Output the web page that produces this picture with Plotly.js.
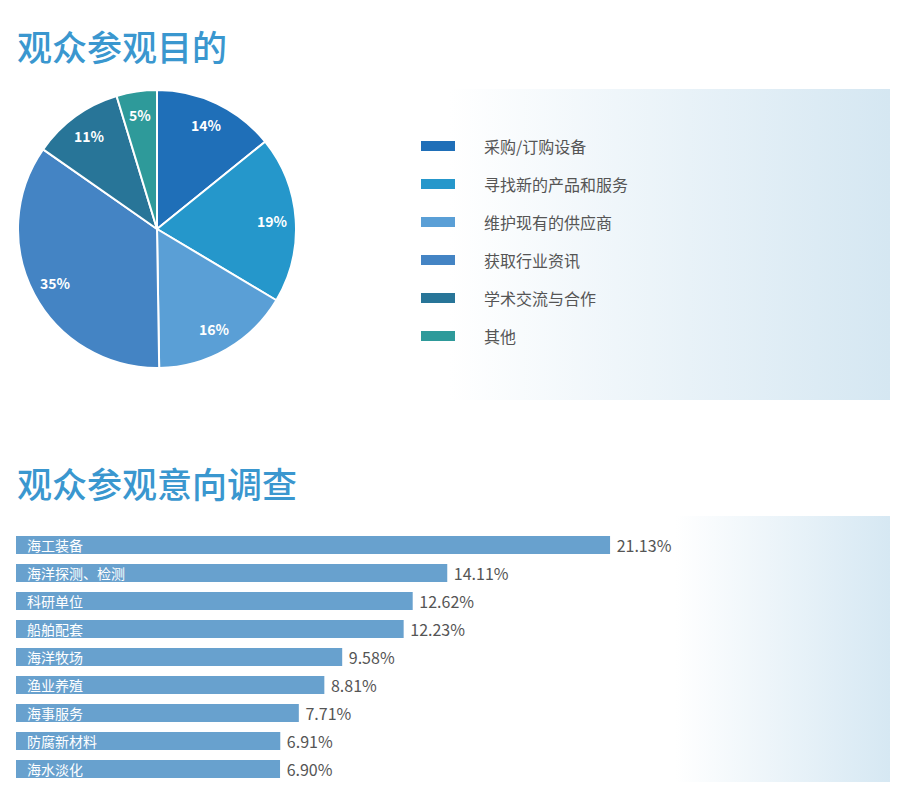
<!DOCTYPE html>
<html>
<head>
<meta charset="utf-8">
<script src="https://cdn.plot.ly/plotly-3.0.1.min.js"></script>
<style>
html,body{margin:0;padding:0;background:#fff;}
#chart{width:907px;height:801px;}
</style>
</head>
<body>
<div id="chart"></div>
<script>
// ---- data ----
const pieTitle = '观众参观目的';
const pieLabels = ['采购/订购设备', '寻找新的产品和服务', '维护现有的供应商', '获取行业资讯', '学术交流与合作', '其他'];
// shares (labelled 14%, 19%, 16%, 35%, 11%, 5%)
const pieValues = [14.2, 19.4, 16.2, 35.0, 10.6, 4.7];
const pieColors = ['#1f6fb8', '#2597cb', '#5a9fd6', '#4484c4', '#287598', '#2e9a9a'];

const barTitle = '观众参观意向调查';
const barCats = ['海工装备', '海洋探测、检测', '科研单位', '船舶配套', '海洋牧场', '渔业养殖', '海事服务', '防腐新材料', '海水淡化'];
const barValues = [21.13, 14.11, 12.62, 12.23, 9.58, 8.81, 7.71, 6.91, 6.90];
const barColor = '#68a1ce';

// ---- layout helpers ----
const W = 907, H = 801;
const px = x => x / W;
const py = y => 1 - y / H;
const FONT = '"Noto Sans CJK SC", "Noto Sans", sans-serif';
const OFFSET = 4.485;   // bars start left of the value origin
const XMAX = 33.2;

// pie geometry (pixels)
const PIE_CX = 157, PIE_CY = 229, PIE_R = 139;
const LABEL_R = 0.83;

function gradientImage(x0, x1, y0, y1, startStop, color) {
  const svg = "<svg xmlns='http://www.w3.org/2000/svg' width='200' height='100' preserveAspectRatio='none' viewBox='0 0 200 100'>" +
    "<defs><linearGradient id='g' x1='0' x2='1' y1='0' y2='0'>" +
    "<stop offset='0' stop-color='#ffffff'/>" +
    "<stop offset='" + startStop + "' stop-color='#ffffff'/>" +
    "<stop offset='1' stop-color='" + color + "'/>" +
    "</linearGradient></defs><rect width='200' height='100' fill='url(#g)'/></svg>";
  return {
    source: 'data:image/svg+xml;charset=utf-8,' + encodeURIComponent(svg),
    xref: 'paper', yref: 'paper',
    x: px(x0), y: py(y0), sizex: px(x1) - px(x0), sizey: py(y0) - py(y1),
    xanchor: 'left', yanchor: 'top', sizing: 'stretch', layer: 'below'
  };
}

const pieTrace = {
  type: 'pie',
  values: pieValues,
  labels: pieLabels,
  marker: {colors: pieColors, line: {color: '#ffffff', width: 2}},
  sort: false,
  direction: 'clockwise',
  rotation: 0,
  textinfo: 'none',
  hoverinfo: 'label+percent',
  showlegend: false,
  domain: {x: [px(PIE_CX - PIE_R), px(PIE_CX + PIE_R)], y: [py(PIE_CY + PIE_R), py(PIE_CY - PIE_R)]}
};

const barTrace = {
  type: 'bar',
  orientation: 'h',
  y: barCats,
  x: barValues.map(v => v + OFFSET),
  base: -OFFSET,
  text: barValues.map(v => ' ' + v.toFixed(2) + '%'),
  textposition: 'outside',
  textfont: {family: FONT, size: 16, color: '#555555'},
  constraintext: 'none',
  cliponaxis: false,
  marker: {color: barColor},
  hovertemplate: '%{y}: %{text}<extra></extra>',
  showlegend: false,
  xaxis: 'x', yaxis: 'y'
};

const annotations = [];
annotations.push({
  text: pieTitle, xref: 'paper', yref: 'paper', x: px(15), y: py(45),
  xanchor: 'left', yanchor: 'middle', showarrow: false,
  font: {family: FONT, size: 35, color: '#3a97cf', weight: 500}
});
annotations.push({
  text: barTitle, xref: 'paper', yref: 'paper', x: px(15), y: py(482),
  xanchor: 'left', yanchor: 'middle', showarrow: false,
  font: {family: FONT, size: 35, color: '#3a97cf', weight: 500}
});

// pie percentage labels, placed at each slice's mid-angle
const pieTotal = pieValues.reduce((a, b) => a + b, 0);
let cum = 0;
pieValues.forEach(v => {
  const mid = (cum + v / 2) / pieTotal * 2 * Math.PI;
  cum += v;
  const lx = PIE_CX + LABEL_R * PIE_R * Math.sin(mid);
  const ly = PIE_CY - LABEL_R * PIE_R * Math.cos(mid);
  annotations.push({
    text: Math.round(v) + '%', xref: 'paper', yref: 'paper', x: px(lx), y: py(ly),
    xanchor: 'center', yanchor: 'middle', showarrow: false,
    font: {family: FONT, size: 14, color: '#ffffff', weight: 'bold'}
  });
});

const shapes = [];
pieLabels.forEach((lab, i) => {
  const cy = 146 + i * 38;
  shapes.push({
    type: 'rect', xref: 'paper', yref: 'paper',
    x0: px(421), x1: px(455), y0: py(cy + 5), y1: py(cy - 5),
    fillcolor: pieColors[i], line: {width: 0}
  });
  annotations.push({
    text: lab, xref: 'paper', yref: 'paper', x: px(482), y: py(cy - 0.5),
    xanchor: 'left', yanchor: 'middle', showarrow: false,
    font: {family: FONT, size: 16, color: '#555555'}
  });
});

barCats.forEach(c => {
  annotations.push({
    text: c, xref: 'x', yref: 'y', x: -OFFSET, y: c, xshift: 9,
    xanchor: 'left', yanchor: 'middle', showarrow: false,
    font: {family: FONT, size: 14, color: '#ffffff'}
  });
});

const layout = {
  width: W, height: H,
  margin: {l: 0, r: 0, t: 0, b: 0, pad: 0},
  paper_bgcolor: '#ffffff',
  plot_bgcolor: 'rgba(0,0,0,0)',
  showlegend: false,
  bargap: 0.357,
  xaxis: {
    domain: [px(16), px(890)], range: [-OFFSET, XMAX],
    showgrid: false, zeroline: false, showticklabels: false, showline: false, ticks: '', fixedrange: true
  },
  yaxis: {
    domain: [py(783), py(531)], autorange: 'reversed',
    showgrid: false, zeroline: false, showticklabels: false, showline: false, ticks: '', fixedrange: true
  },
  images: [
    gradientImage(400, 890, 89, 400, 0.1, '#d5e7f2'),
    gradientImage(560, 890, 516, 782, 0.35, '#d6e8f3')
  ],
  shapes: shapes,
  annotations: annotations
};

Plotly.newPlot('chart', [pieTrace, barTrace], layout, {displayModeBar: false, staticPlot: true});
</script>
</body>
</html>
